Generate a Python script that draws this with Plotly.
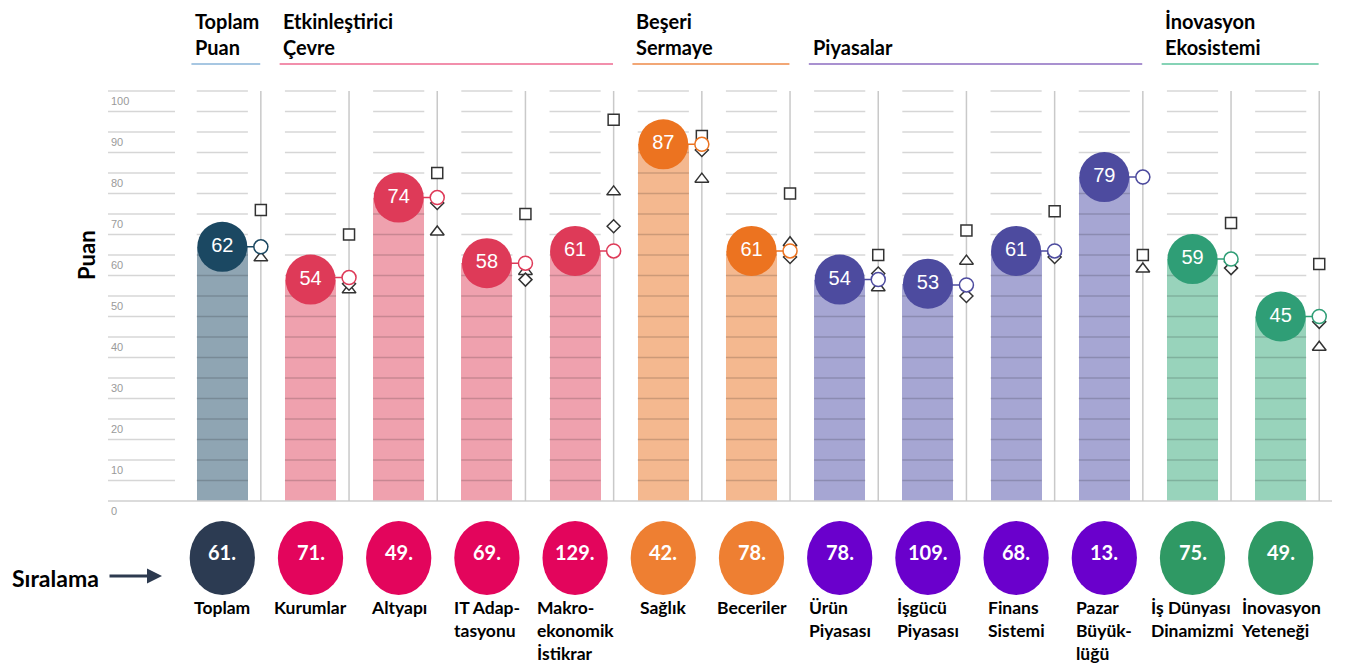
import plotly.graph_objects as go

# ---------------- data ----------------
categories = ["Toplam", "Kurumlar", "Altyapı", "IT Adaptasyonu", "Makroekonomik İstikrar",
              "Sağlık", "Beceriler", "Ürün Piyasası", "İşgücü Piyasası", "Finans Sistemi",
              "Pazar Büyüklüğü", "İş Dünyası Dinamizmi", "İnovasyon Yeteneği"]
category_labels = ["Toplam", "Kurumlar", "Altyapı", "IT Adap-<br>tasyonu", "Makro-<br>ekonomik<br>İstikrar",
                   "Sağlık", "Beceriler", "Ürün<br>Piyasası", "İşgücü<br>Piyasası", "Finans<br>Sistemi",
                   "Pazar<br>Büyük-<br>lüğü", "İş Dünyası<br>Dinamizmi", "İnovasyon<br>Yeteneği"]
scores = [62, 54, 74, 58, 61, 87, 61, 54, 53, 61, 79, 59, 45]
previous_vals = [62, 54.5, 74, 58, 61, 87, 61, 54, 52.7, 61, 79, 59, 45]
square_vals = [71, 65, 80, 70, 93, 89, 75, 60, 66, 70.7, 60, 67.8, 57.8]
triangle_vals = [59.3, 51.5, 65.6, 56, 75.4, 78.5, 63, 52, 58.5, 61, 56.6, 59, 37.5]
diamond_vals = [62, 53, 72.7, 54, 67, 85.6, 59.5, 55.5, 50, 59.5, 79, 56.8, 43.7]
ranks = ["61.", "71.", "49.", "69.", "129.", "42.", "78.", "78.", "109.", "68.", "13.", "75.", "49."]
group_of = [0, 1, 1, 1, 1, 2, 2, 3, 3, 3, 3, 4, 4]

group_names = ["Toplam<br>Puan", "Etkinleştirici<br>Çevre", "Beşeri<br>Sermaye", "Piyasalar", "İnovasyon<br>Ekosistemi"]
group_circle = ["#1b4862", "#de3a58", "#ec7320", "#4d4b9f", "#2f9e76"]
group_bar = ["#8fa5b3", "#efa1ae", "#f4b88f", "#a6a6d3", "#98d3bb"]
group_line = ["#8ab4d8", "#ee6a91", "#ee8a48", "#8c6cc0", "#5ec49e"]
group_rank = ["#2c3b52", "#e3055c", "#ee7f32", "#6a00cc", "#2f9964"]

y_tick_vals = [0, 10, 20, 30, 40, 50, 60, 70, 80, 90, 100]
grid_vals = [5, 10, 15, 20, 25, 30, 35, 40, 45, 50, 55, 60, 65, 70, 75, 80, 85, 90, 95, 100]

# ---------------- geometry helpers (screen pixels) ----------------
W, H = 1355, 663
PAGE_PAD = 8          # default body margin of the html page
PX_PER_UNIT = 4.1
Y0_PX = 501
X0_PX = 134.1
PX_PER_CAT = 88.2

def ypx(p):
    return (Y0_PX - p) / PX_PER_UNIT

def xpx(p):
    return (p - X0_PX) / PX_PER_CAT

idx = list(range(1, len(categories) + 1))
LINE_OFF = 0.437
BAR_W = 0.58
LABEL_FONT = "Lato"

fig = go.Figure()

# bars
fig.add_trace(go.Bar(x=idx, y=scores, width=BAR_W,
                     marker=dict(color=[group_bar[g] for g in group_of], line=dict(width=0)),
                     hoverinfo="skip"))

# gridline segments
gx, gy = [], []
for v in grid_vals:
    gx += [xpx(108), xpx(175), None]
    gy += [v, v, None]
    for i in idx:
        gx += [i - BAR_W / 2, i + BAR_W / 2, None]
        gy += [v, v, None]
fig.add_trace(go.Scatter(x=gx, y=gy, mode="lines", line=dict(color="rgba(0,0,0,0.16)", width=1.3),
                         hoverinfo="skip"))
# zero line
fig.add_trace(go.Scatter(x=[xpx(108), xpx(1332)], y=[0, 0], mode="lines",
                         line=dict(color="#cfcfcf", width=1.5), hoverinfo="skip"))

# vertical lines
vx, vy = [], []
for i in idx:
    vx += [i + LINE_OFF, i + LINE_OFF, None]
    vy += [0, 100, None]
fig.add_trace(go.Scatter(x=vx, y=vy, mode="lines", line=dict(color="#c9c9c9", width=1.5),
                         hoverinfo="skip"))

# connectors
for k, i in enumerate(idx):
    fig.add_trace(go.Scatter(x=[i, i + LINE_OFF], y=[previous_vals[k], previous_vals[k]], mode="lines",
                             line=dict(color=group_circle[group_of[k]], width=1.5), hoverinfo="skip"))

# big circles with score
fig.add_trace(go.Scatter(x=idx, y=scores, mode="markers+text",
                         marker=dict(size=50, color=[group_circle[g] for g in group_of], line=dict(width=0)),
                         text=[str(s) for s in scores], textposition="middle center",
                         textfont=dict(color="white", size=20, family="Liberation Sans"),
                         hoverinfo="skip"))

xm = [i + LINE_OFF for i in idx]
fig.add_trace(go.Scatter(x=xm, y=square_vals, mode="markers",
                         marker=dict(symbol="square", size=11, color="white", line=dict(color="#333", width=1.5)),
                         hoverinfo="skip"))
fig.add_trace(go.Scatter(x=xm, y=triangle_vals, mode="markers",
                         marker=dict(symbol="triangle-up", size=12, color="white", line=dict(color="#333", width=1.5)),
                         hoverinfo="skip"))
fig.add_trace(go.Scatter(x=xm, y=diamond_vals, mode="markers",
                         marker=dict(symbol="diamond", size=10, color="white", line=dict(color="#333", width=1.5)),
                         hoverinfo="skip"))
fig.add_trace(go.Scatter(x=xm, y=previous_vals, mode="markers",
                         marker=dict(symbol="circle", size=14, color="white",
                                     line=dict(color=[group_circle[g] for g in group_of], width=1.5)),
                         hoverinfo="skip"))

annotations = []
shapes = []

# y tick labels
for v in y_tick_vals:
    annotations.append(dict(x=xpx(109), y=v, xref="x", yref="y", text=str(v), showarrow=False,
                            xanchor="left", yanchor="middle", yshift=-10,
                            font=dict(size=11, color="#9a9a9a", family="Liberation Sans")))

# y axis title
annotations.append(dict(x=xpx(86), y=ypx(255), xref="x", yref="y", text="Puan", showarrow=False,
                        textangle=-90, xanchor="center", yanchor="middle",
                        font=dict(size=22, color="black", family=LABEL_FONT, weight="bold")))

# group headers
for g, name in enumerate(group_names):
    members = [i for i, gg in zip(idx, group_of) if gg == g]
    first, last = members[0], members[-1]
    annotations.append(dict(x=first - 0.33, y=ypx(61), xref="x", yref="y", text=name, showarrow=False,
                            xanchor="left", yanchor="bottom", align="left",
                            font=dict(size=20, color="black", family=LABEL_FONT, weight="bold")))
    shapes.append(dict(type="line", xref="x", yref="y", x0=first - 0.35, x1=last + 0.43,
                       y0=ypx(64), y1=ypx(64), line=dict(color=group_line[g], width=1.5)))

# rank ellipses and labels
for k, i in enumerate(idx):
    g = group_of[k]
    shapes.append(dict(type="circle", xref="x", yref="y", x0=i - 0.37, x1=i + 0.37,
                       y0=ypx(521), y1=ypx(595), fillcolor=group_rank[g], line=dict(width=0)))
    annotations.append(dict(x=i, y=ypx(558), xref="x", yref="y", text=ranks[k], showarrow=False,
                            xanchor="center", yanchor="middle", yshift=6,
                            font=dict(size=20, color="white", family=LABEL_FONT, weight="bold")))
    annotations.append(dict(x=i, y=ypx(595), xref="x", yref="y", text=category_labels[k], showarrow=False,
                            xanchor="center", yanchor="top", align="left",
                            font=dict(size=17.5, color="black", family=LABEL_FONT, weight="bold")))

# Sıralama label and arrow
annotations.append(dict(x=xpx(10), y=ypx(578), xref="x", yref="y", text="Sıralama", showarrow=False,
                        xanchor="left", yanchor="middle",
                        font=dict(size=23, color="black", family=LABEL_FONT, weight="bold")))
annotations.append(dict(x=xpx(162), y=ypx(576), xref="x", yref="y", text="", showarrow=True,
                        ax=-54, ay=0, arrowhead=2, arrowsize=1, arrowwidth=3, arrowcolor="#2d3a4f"))

fig.update_layout(
    width=W - PAGE_PAD, height=H - PAGE_PAD, margin=dict(l=0, r=0, t=0, b=0),
    paper_bgcolor="white", plot_bgcolor="white", showlegend=False,
    xaxis=dict(range=[xpx(PAGE_PAD), xpx(W)], visible=False, fixedrange=True),
    yaxis=dict(range=[ypx(H), ypx(PAGE_PAD)], visible=False, fixedrange=True),
    annotations=annotations, shapes=shapes, bargap=0,
)

fig.write_html("out.html")
